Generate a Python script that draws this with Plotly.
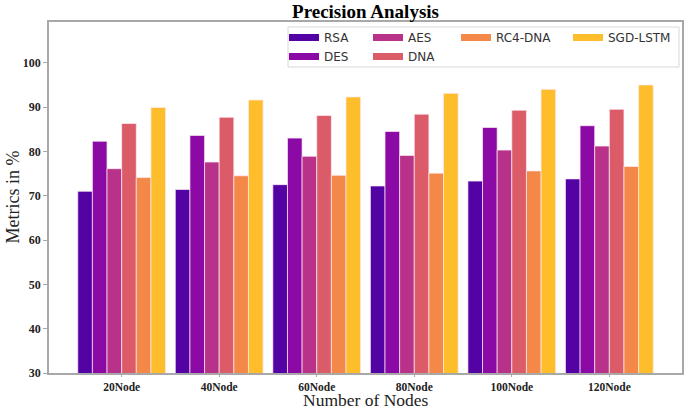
import plotly.graph_objects as go

nodes = ["20Node", "40Node", "60Node", "80Node", "100Node", "120Node"]

rsa = [71.0, 71.4, 72.5, 72.2, 73.3, 73.8]
des = [82.3, 83.6, 83.0, 84.5, 85.4, 85.8]
aes = [76.1, 77.6, 78.9, 79.1, 80.3, 81.2]
dna = [86.3, 87.7, 88.1, 88.4, 89.3, 89.5]
rc4_dna = [74.1, 74.5, 74.6, 75.1, 75.6, 76.6]
sgd_lstm = [89.9, 91.6, 92.3, 93.1, 94.0, 95.0]

series = [
    ("RSA", rsa, "#5302a3", "legend"),
    ("DES", des, "#8b0aa5", "legend"),
    ("AES", aes, "#b83289", "legend2"),
    ("DNA", dna, "#db5c68", "legend2"),
    ("RC4-DNA", rc4_dna, "#f48849", "legend3"),
    ("SGD-LSTM", sgd_lstm, "#febd2a", "legend4"),
]

serif = "Liberation Serif, Times New Roman, serif"
sans = "DejaVu Sans, sans-serif"
W, H = 685, 412

fig = go.Figure()
for name, vals, color, leg in series:
    fig.add_trace(go.Bar(
        x=nodes, y=vals, name=name, showlegend=False,
        marker=dict(color=color, line=dict(color="rgba(255,235,245,0.7)", width=1)),
    ))
# legend entries drawn as short thick lines, like the matplotlib patches
for name, vals, color, leg in series:
    fig.add_trace(go.Scatter(
        x=[None], y=[None], mode="lines", name=name, legend=leg,
        line=dict(color=color, width=7),
    ))

px_l, px_t, plot_w, plot_h = 49, 22, 633, 351


def px_x(x):
    return (x - px_l) / plot_w


def px_y(y):
    return (px_t + plot_h - y) / plot_h


leg_common = dict(
    orientation="v", xanchor="left", yanchor="top", xref="container", yref="container",
    y=1 - 23 / H, bgcolor="rgba(0,0,0,0)", borderwidth=0, tracegroupgap=0,
    font=dict(family=sans, size=12, color="#333"),
)

fig.update_layout(
    width=W, height=H,
    margin=dict(l=px_l, r=W - px_l - plot_w, t=px_t, b=H - px_t - plot_h, autoexpand=False),
    paper_bgcolor="white", plot_bgcolor="white",
    barmode="group", bargap=0.1, bargroupgap=0,
    title=dict(
        text="Precision Analysis", x=0.5, xref="paper", xanchor="center",
        y=1 - 11 / H, yref="container", yanchor="middle",
        font=dict(family=serif, size=19, color="black", weight="bold"),
    ),
    xaxis=dict(
        range=[-0.745, 5.745], showline=True, mirror=True, linecolor="#a8a8a8", linewidth=1.5,
        ticks="outside", ticklen=2, tickcolor="#a8a8a8", showgrid=False, automargin=False,
        tickfont=dict(family=serif, size=11.5, color="#222", weight="bold"),
    ),
    yaxis=dict(
        range=[30, 109.2], dtick=10, showline=True, mirror=True, linecolor="#a8a8a8", linewidth=1.5,
        ticks="outside", ticklen=4, tickcolor="#a8a8a8", showgrid=False, zeroline=False, automargin=False,
        tickfont=dict(family=serif, size=12, color="#222", weight="bold"),
    ),
    legend=dict(x=284 / W, **leg_common),
    legend2=dict(x=368 / W, **leg_common),
    legend3=dict(x=456 / W, **leg_common),
    legend4=dict(x=568 / W, **leg_common),
    shapes=[dict(
        type="rect", xref="paper", yref="paper",
        x0=px_x(288), x1=px_x(679), y0=px_y(67), y1=px_y(27),
        line=dict(color="#d8d8d8", width=1), fillcolor="white", layer="above",
    )],
    annotations=[
        dict(text="Number of Nodes", xref="paper", yref="paper", x=0.5, y=px_y(H),
             xanchor="center", yanchor="bottom", showarrow=False,
             font=dict(family=serif, size=17.5, color="#222")),
        dict(text="Metrics in %", xref="paper", yref="paper", x=px_x(12), y=0.5,
             xanchor="center", yanchor="middle", showarrow=False, textangle=-90,
             font=dict(family=serif, size=18, color="#222")),
    ],
)

# drop the page's default body margin so the figure sits at the window's corner
fig.write_html(
    "out.html",
    config={"displayModeBar": False},
    post_script="document.body.style.margin='0';",
)
